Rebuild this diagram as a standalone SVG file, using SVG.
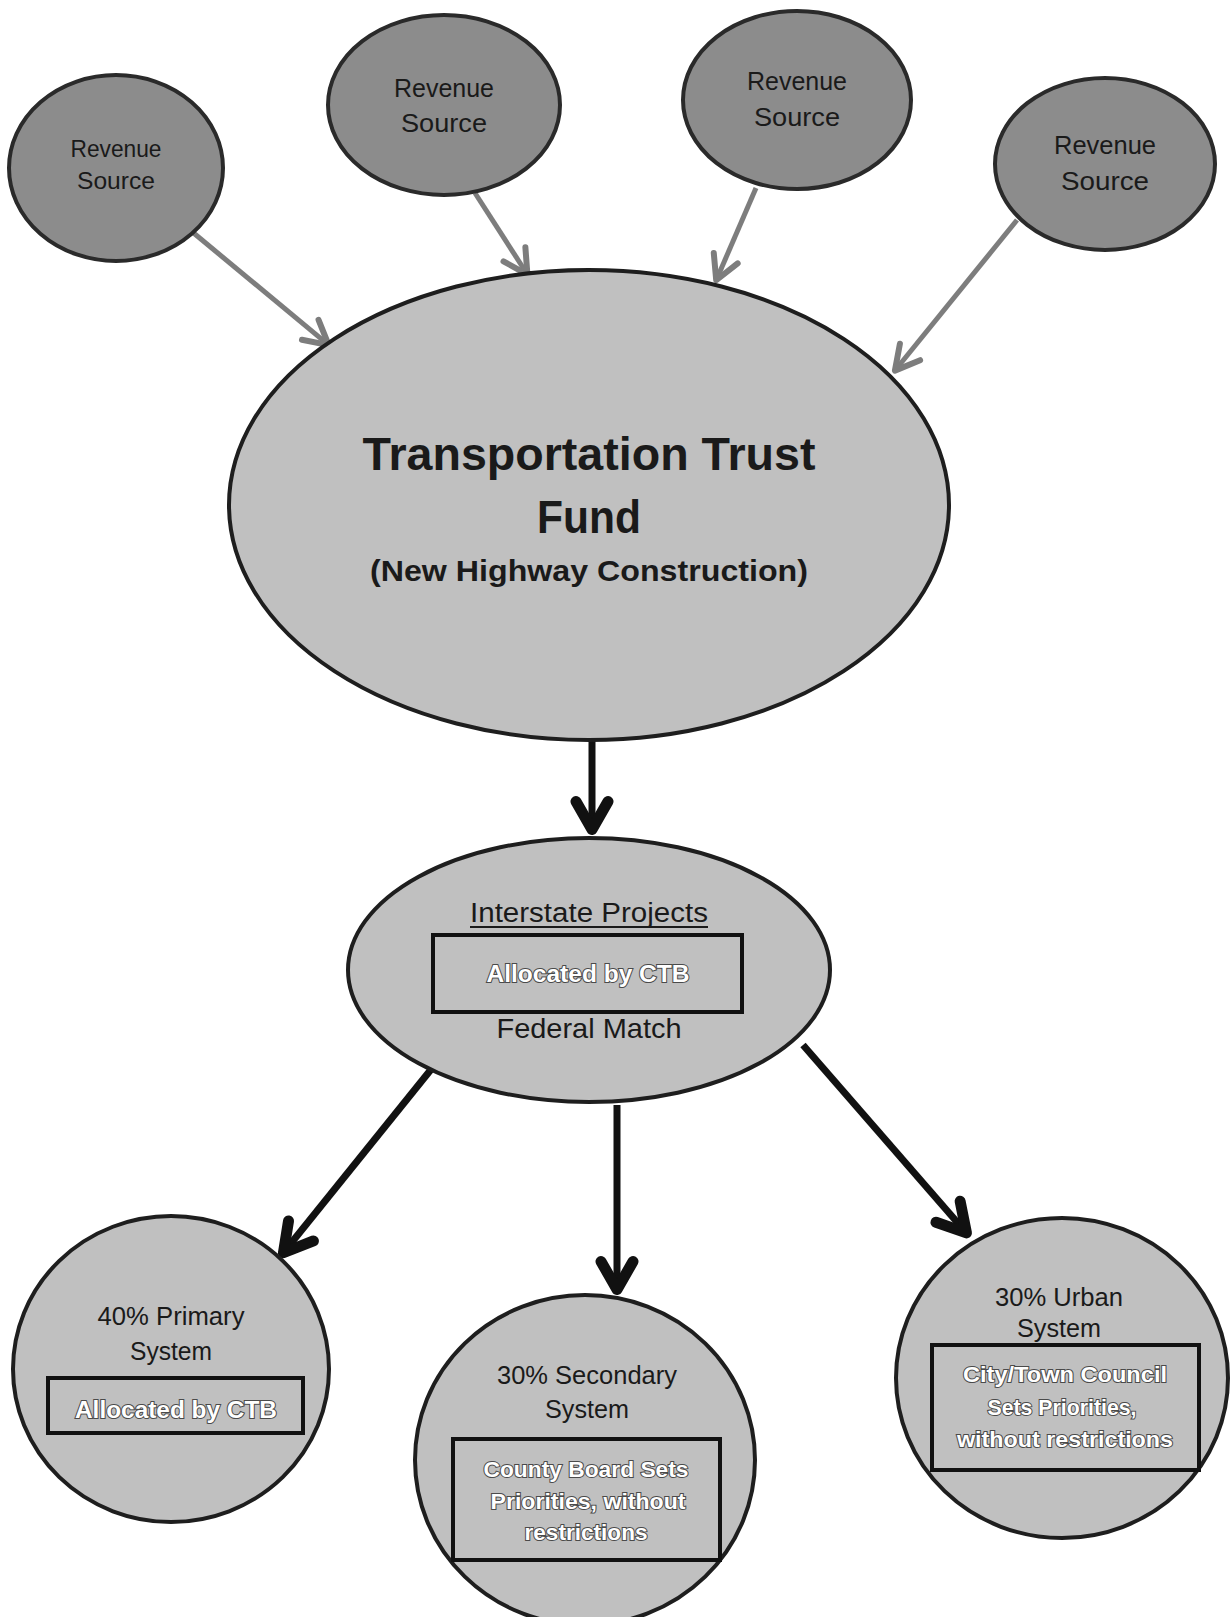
<svg xmlns="http://www.w3.org/2000/svg" width="1231" height="1617" viewBox="0 0 1231 1617">
<style>
.rs{fill:#8c8c8c;stroke:#2a2a2a;stroke-width:4}
.nd{fill:#c0c0c0;stroke:#1e1e1e;stroke-width:4}
.bx{fill:none;stroke:#111;stroke-width:4}
.t{font-family:"Liberation Sans",Arial,sans-serif;fill:#1a1a1a;text-anchor:middle}
.b{font-weight:bold}
.w{font-family:"Liberation Sans",Arial,sans-serif;font-weight:bold;fill:#fff;stroke:#4a4a4a;stroke-width:2;paint-order:stroke;text-anchor:middle}
.g{stroke:#7d7d7d;stroke-width:5;fill:none;marker-end:url(#ag)}
.k{stroke:#111;stroke-width:7;fill:none;marker-end:url(#ak)}
</style>
<defs>
<marker id="ag" markerUnits="userSpaceOnUse" viewBox="-30 -18 36 36" markerWidth="36" markerHeight="36" refX="-3" refY="0" orient="auto">
<path d="M-24,-13 L0,0 L-24,13" fill="none" stroke="#7d7d7d" stroke-width="6" stroke-linecap="round" stroke-linejoin="round"/>
</marker>
<marker id="ak" markerUnits="userSpaceOnUse" viewBox="-36 -24 44 48" markerWidth="44" markerHeight="48" refX="-2.5" refY="0" orient="auto">
<path d="M-28,-16 L0,0 L-28,16" fill="none" stroke="#111" stroke-width="11" stroke-linecap="round" stroke-linejoin="round"/>
</marker>
</defs>
<rect width="1231" height="1617" fill="#fff"/>

<g id="connectors">
<line class="g" x1="190" y1="230" x2="326.4" y2="343.2"/>
<line class="g" x1="475" y1="193" x2="525.8" y2="272"/>
<line class="g" x1="756" y1="188" x2="717.4" y2="277.5"/>
<line class="g" x1="1017" y1="220" x2="896.8" y2="368.3"/>
<line class="k" x1="592" y1="740" x2="592" y2="827"/>
<line class="k" x1="433" y1="1067" x2="285" y2="1250.8"/>
<line class="k" x1="617" y1="1105" x2="617" y2="1287"/>
<line class="k" x1="803" y1="1045" x2="964.8" y2="1231"/>
</g>

<g id="rs1">
<ellipse class="rs" cx="116" cy="168" rx="107" ry="93"/>
<text class="t" x="116" y="157" font-size="24" textLength="91" lengthAdjust="spacingAndGlyphs">Revenue</text>
<text class="t" x="116" y="189" font-size="24" textLength="78" lengthAdjust="spacingAndGlyphs">Source</text>
</g>
<g id="rs2">
<ellipse class="rs" cx="444" cy="105" rx="116" ry="90"/>
<text class="t" x="444" y="97" font-size="26" textLength="100" lengthAdjust="spacingAndGlyphs">Revenue</text>
<text class="t" x="444" y="132" font-size="26" textLength="86" lengthAdjust="spacingAndGlyphs">Source</text>
</g>
<g id="rs3">
<ellipse class="rs" cx="797" cy="100" rx="114" ry="89"/>
<text class="t" x="797" y="90" font-size="26" textLength="100" lengthAdjust="spacingAndGlyphs">Revenue</text>
<text class="t" x="797" y="126" font-size="26" textLength="86" lengthAdjust="spacingAndGlyphs">Source</text>
</g>
<g id="rs4">
<ellipse class="rs" cx="1105" cy="164" rx="110" ry="86"/>
<text class="t" x="1105" y="154" font-size="26" textLength="102" lengthAdjust="spacingAndGlyphs">Revenue</text>
<text class="t" x="1105" y="190" font-size="26" textLength="88" lengthAdjust="spacingAndGlyphs">Source</text>
</g>

<g id="fund">
<ellipse class="nd" cx="589" cy="505" rx="360" ry="235"/>
<text class="t b" x="589" y="470" font-size="46" textLength="453" lengthAdjust="spacingAndGlyphs">Transportation Trust</text>
<text class="t b" x="589" y="533" font-size="46" textLength="104" lengthAdjust="spacingAndGlyphs">Fund</text>
<text class="t b" x="589" y="581" font-size="30" textLength="438" lengthAdjust="spacingAndGlyphs">(New Highway Construction)</text>
</g>

<g id="interstate">
<ellipse class="nd" cx="589" cy="970" rx="241" ry="132"/>
<text class="t" x="589" y="922" font-size="27" textLength="238" lengthAdjust="spacingAndGlyphs">Interstate Projects</text>
<line x1="470" y1="927" x2="708" y2="927" stroke="#1a1a1a" stroke-width="2"/>
<rect class="bx" x="433" y="935" width="309" height="77"/>
<text class="w" x="588" y="982" font-size="24" textLength="203" lengthAdjust="spacingAndGlyphs">Allocated by CTB</text>
<text class="t" x="589" y="1038" font-size="28" textLength="185" lengthAdjust="spacingAndGlyphs">Federal Match</text>
</g>

<g id="primary">
<ellipse class="nd" cx="171" cy="1369" rx="158" ry="153"/>
<text class="t" x="171" y="1325" font-size="26" textLength="147" lengthAdjust="spacingAndGlyphs">40% Primary</text>
<text class="t" x="171" y="1360" font-size="26" textLength="82" lengthAdjust="spacingAndGlyphs">System</text>
<rect class="bx" x="48" y="1378" width="255" height="55"/>
<text class="w" x="176" y="1418" font-size="24" textLength="202" lengthAdjust="spacingAndGlyphs">Allocated by CTB</text>
</g>

<g id="secondary">
<ellipse class="nd" cx="585" cy="1460" rx="170" ry="165"/>
<text class="t" x="587" y="1384" font-size="26" textLength="180" lengthAdjust="spacingAndGlyphs">30% Secondary</text>
<text class="t" x="587" y="1418" font-size="26" textLength="84" lengthAdjust="spacingAndGlyphs">System</text>
<rect class="bx" x="453" y="1439" width="267" height="121"/>
<text class="w" x="586" y="1477" font-size="22" textLength="205" lengthAdjust="spacingAndGlyphs">County Board Sets</text>
<text class="w" x="588" y="1509" font-size="22" textLength="195" lengthAdjust="spacingAndGlyphs">Priorities, without</text>
<text class="w" x="586" y="1540" font-size="22" textLength="123" lengthAdjust="spacingAndGlyphs">restrictions</text>
</g>

<g id="urban">
<ellipse class="nd" cx="1062" cy="1378" rx="166" ry="160"/>
<text class="t" x="1059" y="1306" font-size="26" textLength="128" lengthAdjust="spacingAndGlyphs">30% Urban</text>
<text class="t" x="1059" y="1337" font-size="26" textLength="84" lengthAdjust="spacingAndGlyphs">System</text>
<rect class="bx" x="932" y="1345" width="267" height="125"/>
<text class="w" x="1065" y="1382" font-size="22" textLength="204" lengthAdjust="spacingAndGlyphs">City/Town Council</text>
<text class="w" x="1062" y="1415" font-size="22" textLength="149" lengthAdjust="spacingAndGlyphs">Sets Priorities,</text>
<text class="w" x="1065" y="1447" font-size="22" textLength="216" lengthAdjust="spacingAndGlyphs">without restrictions</text>
</g>
</svg>
